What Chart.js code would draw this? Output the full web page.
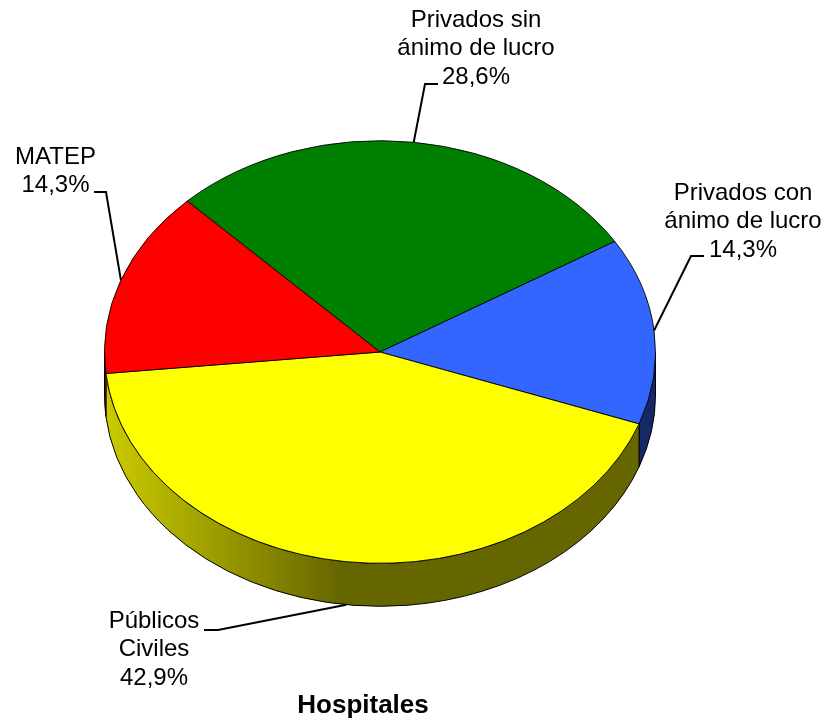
<!DOCTYPE html>
<html>
<head>
<meta charset="utf-8">
<title>Hospitales</title>
<script src="https://cdn.jsdelivr.net/npm/chart.js@4"></script>
<style>
    html, body { margin: 0; padding: 0; background: #fff; }
    canvas { display: block; }
</style>
</head>
<body>
<canvas id="pieChart" width="827" height="726"></canvas>
<script>
const categories = ['Privados sin|ánimo de lucro', 'Privados con|ánimo de lucro', 'Públicos|Civiles', 'MATEP'];
const shares = [28.6, 14.3, 42.9, 14.3];
const sliceColors = ['#008000', '#3366ff', '#ffff00', '#ff0000'];
const chartTitle = 'Hospitales';

// pie look: squash factor and thickness of the side wall
const squash = 0.767;
const depth = 43;
const gradientEnd = 340;

// label placement, same order as categories
const labelCenters = [[476, 20], [743, 193], [154, 621], [55.5, 157]];
const leaderElbows = [[[425, 84], [438, 84]], [[691, 256], [704, 256]], [[218, 630], [204, 630]], [[106, 192], [94, 192]]];
const lineHeight = 28.5;

function shade(hex, f) {
    const n = parseInt(hex.slice(1), 16);
    const r = Math.round((n >> 16 & 255) * f);
    const g = Math.round((n >> 8 & 255) * f);
    const b = Math.round((n & 255) * f);
    return `rgb(${r},${g},${b})`;
}

const pie3d = {
    id: 'pie3d',
    beforeDatasetsDraw(chart) {
        const ctx = chart.ctx;
        const arcs = chart.getDatasetMeta(0).data;
        const { x, y, outerRadius } = arcs[0];
        const ry = outerRadius * squash;

        arcs.forEach((arc, i) => {
            // only the front half of the rim can be seen
            [-2 * Math.PI, 0, 2 * Math.PI].forEach(offset => {
                const a0 = Math.max(arc.startAngle, offset);
                const a1 = Math.min(arc.endAngle, offset + Math.PI);
                if (a1 <= a0) return;

                const grad = ctx.createLinearGradient(x - outerRadius, 0, gradientEnd, 0);
                grad.addColorStop(0, shade(sliceColors[i], 0.8));
                grad.addColorStop(1, shade(sliceColors[i], 0.4));

                ctx.beginPath();
                ctx.ellipse(x, y, outerRadius, ry, 0, a0, a1);
                ctx.ellipse(x, y + depth, outerRadius, ry, 0, a1, a0, true);
                ctx.closePath();
                ctx.fillStyle = grad;
                ctx.fill();
                ctx.strokeStyle = '#000';
                ctx.lineWidth = 1;
                ctx.stroke();
            });
        });

        ctx.save();
        ctx.translate(x, y);
        ctx.scale(1, squash);
        ctx.translate(-x, -y);
    },
    afterDatasetsDraw(chart) {
        chart.ctx.restore();
    },
    afterDraw(chart) {
        const ctx = chart.ctx;
        const arcs = chart.getDatasetMeta(0).data;

        ctx.save();
        ctx.strokeStyle = '#000';
        ctx.lineWidth = 2;
        arcs.forEach((arc, i) => {
            const mid = (arc.startAngle + arc.endAngle) / 2;
            const sy = Math.sin(mid);
            const ax = arc.x + Math.cos(mid) * arc.outerRadius;
            const ay = arc.y + sy * arc.outerRadius * squash + (sy > 0 ? depth : 0);
            ctx.beginPath();
            ctx.moveTo(ax, ay);
            leaderElbows[i].forEach(p => ctx.lineTo(p[0], p[1]));
            ctx.stroke();
        });

        ctx.fillStyle = '#000';
        ctx.textAlign = 'center';
        ctx.textBaseline = 'middle';
        ctx.font = '24px "Liberation Sans", Arial, sans-serif';
        categories.forEach((cat, i) => {
            const lines = cat.split('|').concat(`${String(shares[i]).replace('.', ',')}%`);
            lines.forEach((line, j) => {
                ctx.fillText(line, labelCenters[i][0], labelCenters[i][1] + j * lineHeight);
            });
        });

        ctx.font = 'bold 26px "Liberation Sans", Arial, sans-serif';
        ctx.fillText(chartTitle, 363, 706);
        ctx.restore();
    }
};

new Chart(document.getElementById('pieChart').getContext('2d'), {
    type: 'pie',
    data: {
        labels: categories.map(c => c.replace('|', ' ')),
        datasets: [{
            data: shares,
            backgroundColor: sliceColors,
            borderColor: '#000',
            borderWidth: 1,
            borderAlign: 'center'
        }]
    },
    options: {
        responsive: false,
        animation: false,
        rotation: -44.4,
        layout: {
            padding: { left: 104, right: 171, top: 76, bottom: 98 }
        },
        plugins: {
            legend: { display: false },
            tooltip: { enabled: false },
            title: { display: false }
        }
    },
    plugins: [pie3d]
});
</script>
</body>
</html>
